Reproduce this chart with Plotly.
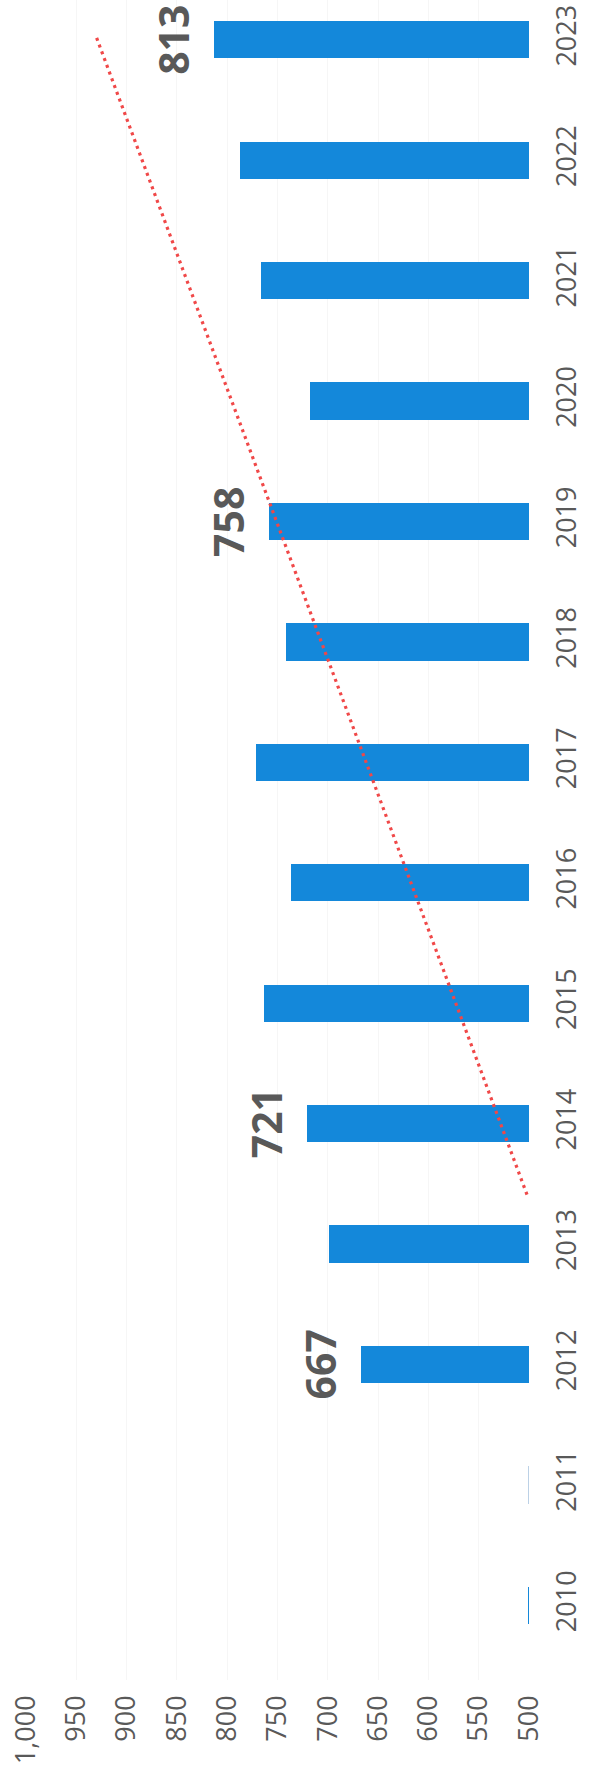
import plotly.graph_objects as go

# Annual totals, 2010-2023 (2010 and 2011 sit on the 500 floor)
years = [2010, 2011, 2012, 2013, 2014, 2015, 2016, 2017, 2018, 2019, 2020, 2021, 2022, 2023]
values = [501, 501, 667, 699, 721, 763, 737, 771, 742, 758, 718, 766, 787, 813]

# Years whose value is printed next to the bar
labelled_years = [2012, 2014, 2019, 2023]

# Trend line end points (year position, value)
trend_years = [2013.41, 2023.02]
trend_values = [502, 930]

# Value-axis ticks
value_ticks = [500, 550, 600, 650, 700, 750, 800, 850, 900, 950, 1000]

BLUE = "#1488DA"
PALE = "#BCD1E6"
GREY = "#595959"
FONT = "Open Sans"

bar_colors = [PALE if y == 2011 else BLUE for y in years]

fig = go.Figure()
fig.add_trace(go.Bar(
    x=values,
    y=years,
    orientation="h",
    width=0.31,
    marker=dict(color=bar_colors, line=dict(width=0)),
    hoverinfo="x+y",
))
fig.add_trace(go.Scatter(
    x=trend_values,
    y=trend_years,
    mode="lines",
    line=dict(color="#F04848", width=3.2, dash="3px,4.2px"),
    hoverinfo="skip",
))

for yr, val in zip(years, values):
    if yr in labelled_years:
        fig.add_annotation(
            x=val, y=yr, xref="x", yref="y",
            text=f"<b>{val}</b>",
            textangle=-90,
            showarrow=False,
            xanchor="center", yanchor="middle",
            xshift=-41,
            font=dict(family=FONT, size=41, color=GREY),
        )

fig.update_layout(
    width=599,
    height=1775,
    margin=dict(l=26, r=70, t=0, b=95),
    paper_bgcolor="white",
    plot_bgcolor="white",
    showlegend=False,
    bargap=0,
)
fig.update_xaxes(
    range=[1000, 500],
    tickvals=value_ticks,
    tickformat=",",
    tickangle=-90,
    tickfont=dict(family=FONT, size=27, color=GREY),
    showgrid=True,
    gridcolor="#F6F6F6",
    gridwidth=1,
    zeroline=False,
    showline=False,
    ticks="",
    ticklabelstandoff=9,
    automargin=False,
)
fig.update_yaxes(
    range=[2009.38, 2023.33],
    tickvals=years,
    ticktext=[str(y) for y in years],
    side="right",
    tickangle=-90,
    tickfont=dict(family=FONT, size=27, color=GREY),
    showgrid=False,
    zeroline=False,
    showline=False,
    ticks="",
    ticklabelstandoff=19,
    ticklabeloverflow="allow",
    automargin=False,
)

fig.write_html("out.html")
